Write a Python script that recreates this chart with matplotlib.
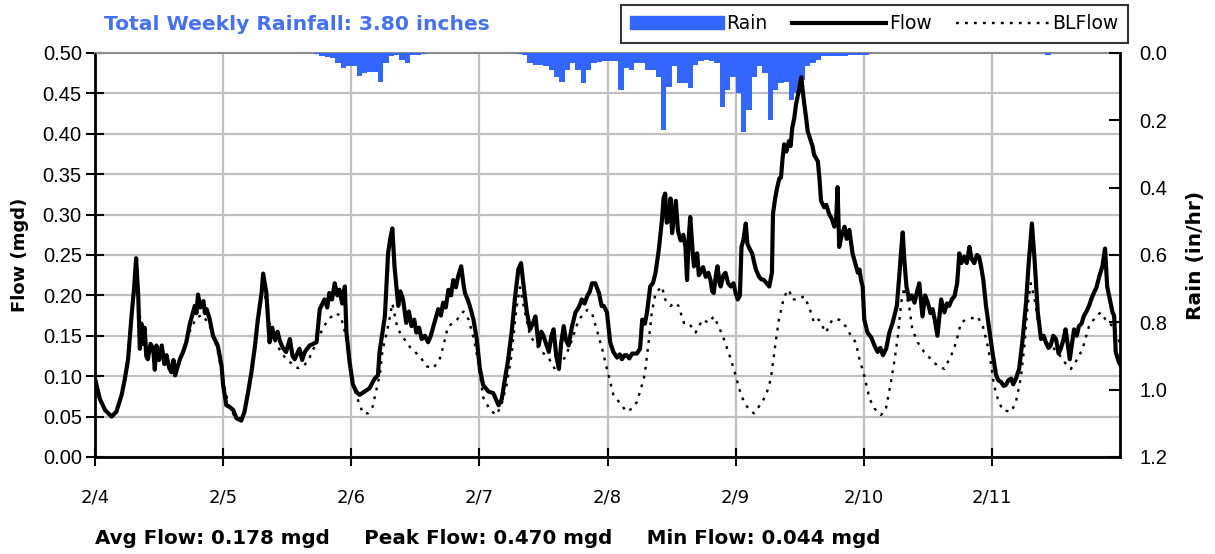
import numpy as np
import matplotlib
matplotlib.use('Agg')
import matplotlib.pyplot as plt
from matplotlib.patches import Patch
from matplotlib.lines import Line2D

# ---- data (hours since 2/4 00:00) ----
day_labels = ['2/4', '2/5', '2/6', '2/7', '2/8', '2/9', '2/10', '2/11']

flow_hr = [
    0, 0.9, 1.9, 3.1, 4.0, 5.0, 5.6, 6.2, 6.9, 7.3, 7.7, 8.1, 8.4, 8.7, 9.0, 9.3, 9.6, 9.9,
    10.4, 10.9, 11.2, 11.5, 12.0, 12.5, 13.0, 13.4, 13.9, 14.3, 14.7, 15.0, 15.9, 16.5,
    17.1, 17.8, 18.7, 19.0, 19.3, 19.7, 20.3, 20.6, 20.9, 21.5, 22.1, 23.0, 23.7, 24.0,
    24.6, 25.2, 25.9, 26.5, 27.4, 28.0, 28.7, 29.3, 29.9, 30.5, 31.2, 31.5, 32.1, 32.7,
    33.2, 33.7, 34.2, 34.6, 35.2, 35.8, 36.5, 37.0, 37.4, 38.3, 38.8, 39.3, 40.2, 41.5,
    42.1, 43.0, 43.5, 43.9, 44.4, 44.9, 45.4, 45.8, 46.3, 46.8, 47.1, 47.7, 48.3,
    49.0, 49.6, 50.5, 51.4, 52.4, 53.0, 53.3, 54.3, 54.9, 55.3, 55.7, 56.1, 56.8, 57.2,
    57.7, 58.3, 58.8, 59.3, 59.8, 60.2, 60.7, 61.2, 61.8, 62.4, 62.9, 63.4, 64.3, 64.8,
    65.2, 65.7, 66.2, 66.7, 67.1, 67.6, 68.0, 68.6, 69.0, 69.3, 69.8, 70.2, 70.9, 71.5, 72.1,
    72.7, 73.7, 74.6, 75.6, 76.2, 76.8, 77.4, 78.1, 78.7, 79.3, 79.8, 80.3, 80.9, 81.5,
    82.0, 82.5, 83.1, 83.6, 84.0, 84.5, 85.0, 85.5, 85.9, 86.4, 86.9, 87.3, 87.8, 88.2,
    88.7, 89.3, 90.0, 90.6, 91.2, 91.7, 92.2, 92.7, 93.1, 93.7, 94.4, 94.9, 95.3, 95.9,
    96.5, 97.1, 97.8, 98.3, 98.7, 99.2, 99.6, 100.1, 100.6, 101.5, 102.1, 102.5, 103.0,
    103.4, 104.0, 104.5, 105.0, 105.6, 106.2, 106.5, 106.8, 107.1, 107.5, 107.8, 108.1,
    108.5, 108.8, 109.2, 109.7, 110.2, 110.6, 110.9, 111.2, 111.5, 112.0, 112.2, 112.5,
    112.8, 113.1, 113.4, 113.9, 114.4, 114.9, 115.3, 115.6, 115.9, 116.3, 116.6, 117.0,
    117.2, 117.7, 118.1, 118.6, 119.1, 119.6, 120.0,
    120.4, 120.8, 121.1, 121.5, 121.9, 122.2, 122.6, 123.1, 123.5, 123.8, 124.4, 124.8,
    125.3, 125.8, 126.3, 126.8, 127.0, 127.4, 127.8, 128.2, 128.5, 128.8, 129.1, 129.5,
    130.0, 130.3, 130.6, 131.0, 131.3, 131.8, 132.3, 132.8, 133.2, 133.5, 134.1, 134.4,
    134.7, 135.4, 135.7, 136.0, 136.6, 137.0, 137.5, 138.0, 138.5, 138.8, 139.1, 139.4,
    139.9, 140.4, 140.8, 141.3, 141.9, 142.4, 142.9, 143.2, 143.5, 143.8,
    144.1, 144.7, 145.4, 146.0, 146.6, 147.1, 147.6, 148.2, 148.8, 149.4, 150.2, 150.7,
    151.0, 151.3, 151.6, 152.0, 152.5, 153.0, 153.5, 154.0, 154.4, 155.0, 155.5, 156.0,
    156.5, 156.9, 157.3, 157.8, 158.2, 158.5, 159.1, 159.6, 160.0, 160.5, 161.0, 161.5,
    161.9, 162.3, 162.8, 163.3, 163.8, 164.2, 164.7, 165.2, 165.6, 166.0, 166.4, 166.9,
    167.5, 168.1,
    168.8, 169.2, 169.7, 170.2, 170.6, 171.1, 171.6, 172.0, 172.5, 173.1, 173.7, 174.4,
    174.9, 175.5, 176.0, 176.6, 177.2, 177.7, 178.1, 178.6, 179.0, 179.5, 180.0, 180.5,
    180.9, 181.4, 181.8, 182.2, 182.6, 183.0, 183.4, 183.9, 184.3, 184.8, 185.2, 185.7,
    186.2, 186.6, 187.1, 187.6, 188.1, 188.7, 189.2, 189.6, 190.1, 190.6, 190.9, 191.2,
    191.8, 192.0,
]
flow_mgd = [
    0.097, 0.072, 0.058, 0.050, 0.056, 0.077, 0.097, 0.121, 0.179, 0.207, 0.246, 0.199, 0.134, 0.165, 0.140, 0.160, 0.125, 0.121,
    0.140, 0.134, 0.108, 0.138, 0.120, 0.138, 0.115, 0.126, 0.110, 0.105, 0.120, 0.101, 0.121, 0.130,
    0.142, 0.166, 0.187, 0.178, 0.201, 0.185, 0.193, 0.178, 0.183, 0.170, 0.150, 0.138, 0.113, 0.089,
    0.064, 0.062, 0.058, 0.048, 0.045, 0.056, 0.081, 0.105, 0.134, 0.170, 0.203, 0.227, 0.203, 0.142,
    0.160, 0.145, 0.155, 0.144, 0.135, 0.130, 0.146, 0.125, 0.121, 0.134, 0.120, 0.130, 0.138, 0.142,
    0.183, 0.195, 0.185, 0.203, 0.195, 0.215, 0.200, 0.207, 0.190, 0.211, 0.154, 0.117, 0.090,
    0.080, 0.077, 0.081, 0.085, 0.097, 0.101, 0.130, 0.174, 0.252, 0.270, 0.283, 0.236, 0.187, 0.205,
    0.195, 0.166, 0.180, 0.162, 0.170, 0.154, 0.160, 0.146, 0.150, 0.142, 0.150, 0.162, 0.183, 0.175,
    0.191, 0.185, 0.207, 0.200, 0.219, 0.210, 0.223, 0.236, 0.215, 0.203, 0.195, 0.187, 0.170, 0.146, 0.109,
    0.089, 0.081, 0.079, 0.064, 0.072, 0.097, 0.121, 0.158, 0.199, 0.232, 0.240, 0.211, 0.179, 0.158,
    0.165, 0.174, 0.138, 0.155, 0.150, 0.140, 0.130, 0.150, 0.158, 0.125, 0.109, 0.140, 0.162, 0.145,
    0.138, 0.160, 0.179, 0.185, 0.195, 0.190, 0.199, 0.205, 0.215, 0.215, 0.203, 0.187, 0.187, 0.179,
    0.142, 0.130, 0.123, 0.127, 0.121, 0.126, 0.126, 0.122, 0.128, 0.128, 0.134, 0.170, 0.165,
    0.179, 0.211, 0.215, 0.228, 0.256, 0.293, 0.320, 0.326, 0.290, 0.293, 0.320, 0.277,
    0.300, 0.317, 0.280, 0.268, 0.275, 0.260, 0.219, 0.270, 0.297, 0.250, 0.236, 0.250,
    0.252, 0.225, 0.228, 0.235, 0.223, 0.228, 0.219, 0.205, 0.203, 0.225, 0.236, 0.215,
    0.211, 0.225, 0.228, 0.215, 0.211, 0.215, 0.203,
    0.195, 0.200, 0.260, 0.270, 0.289, 0.264, 0.258, 0.252, 0.240, 0.232, 0.223, 0.220,
    0.219, 0.215, 0.211, 0.228, 0.301, 0.320, 0.334, 0.345, 0.346, 0.370, 0.387, 0.378,
    0.391, 0.385, 0.407, 0.420, 0.436, 0.452, 0.470, 0.440, 0.420, 0.403, 0.391, 0.385,
    0.374, 0.366, 0.345, 0.317, 0.309, 0.312, 0.301, 0.295, 0.285, 0.290, 0.334, 0.260,
    0.275, 0.285, 0.270, 0.281, 0.252, 0.240, 0.228, 0.232, 0.219, 0.211,
    0.170, 0.154, 0.148, 0.138, 0.130, 0.135, 0.126, 0.134, 0.154, 0.166, 0.187, 0.228,
    0.255, 0.278, 0.244, 0.211, 0.195, 0.200, 0.191, 0.205, 0.215, 0.174, 0.200, 0.191,
    0.178, 0.183, 0.170, 0.150, 0.175, 0.195, 0.179, 0.190, 0.187, 0.195, 0.199, 0.215,
    0.252, 0.240, 0.248, 0.240, 0.260, 0.245, 0.240, 0.250, 0.248, 0.235, 0.219, 0.187,
    0.158, 0.130,
    0.101, 0.095, 0.093, 0.088, 0.089, 0.095, 0.097, 0.090, 0.097, 0.109, 0.142, 0.191,
    0.240, 0.289, 0.244, 0.179, 0.146, 0.150, 0.142, 0.135, 0.138, 0.150, 0.146, 0.128,
    0.134, 0.145, 0.158, 0.140, 0.121, 0.140, 0.158, 0.150, 0.162, 0.165, 0.174, 0.180,
    0.187, 0.195, 0.203, 0.210, 0.223, 0.236, 0.258, 0.211, 0.195, 0.179, 0.175, 0.130,
    0.117, 0.115,
]

bl_hr = [
    0, 1, 2, 3, 4, 5, 6, 7, 7.7, 8.3, 9, 10, 11, 12, 13, 14, 15, 16, 17, 18, 19, 20, 21, 22, 23, 24,
    25, 26, 27, 28, 29, 30, 31, 31.5, 32.3, 33, 34, 35, 36, 37, 38, 39, 40, 41, 42, 43, 44, 45, 46, 47, 48,
    49, 50.2, 51.1, 52, 53.4, 53.8, 55, 55.7, 56.6, 57.2, 59.0, 60.9, 62.2, 63.4, 64.6, 65.2, 66.1,
    67.8, 69, 70, 71, 72,
    72.7, 74, 75.2, 76.1, 77.1, 78, 78.9, 79.6, 80.5, 81.5, 83.2, 85.1, 86.3, 88.2, 89.4, 90.6,
    92.2, 93.1, 94.3, 95.0, 95.6, 96.5,
    97.1, 98.4, 99.6, 100.6, 101.5, 102.1, 102.8, 103.1, 103.7, 104.3, 105.0, 105.6, 106.2,
    106.8, 107.8, 108.7, 109.3, 110.3, 111.2, 112.5, 113.8, 115.0, 115.9, 116.8, 117.8, 119.1,
    120.0, 121.0, 121.9, 123.4, 125.0, 125.9, 126.6, 127.5, 128.1, 129.1, 130.0, 130.6, 131.8,
    132.8, 133.7, 134.7, 135.6, 136.9, 138.1, 139.4, 140.6, 141.6, 142.5, 143.2, 144.0,
    145.1, 146.0, 147.2, 148.1, 149.1, 149.7, 150.4, 151.0, 151.6, 152.5, 153.1, 154.1, 155.3,
    156.6, 157.8, 159.1, 160.4, 161.3, 162.2, 163.1, 164.4, 165.3, 166.3, 167.2, 167.8, 168.4,
    169.1, 170.0, 171.6, 172.5, 173.4, 174.1, 174.7, 175.3, 176.0, 176.6, 177.5, 178.5, 179.5,
    180.5, 181.5, 182.8, 184.0, 185.0, 186.2, 187.5, 188.4, 189.3, 190.6, 191.5, 192.0,
]
bl_mgd = [
    0.095, 0.070, 0.057, 0.052, 0.055, 0.075, 0.115, 0.190, 0.225, 0.180, 0.150, 0.135, 0.128, 0.125, 0.120, 0.112, 0.110, 0.120, 0.140, 0.160, 0.172, 0.176, 0.168, 0.155, 0.130, 0.095,
    0.065, 0.052, 0.047, 0.055, 0.090, 0.140, 0.190, 0.215, 0.180, 0.155, 0.140, 0.128, 0.120, 0.115, 0.110, 0.112, 0.120, 0.135, 0.150, 0.163, 0.172, 0.178, 0.175, 0.150, 0.100,
    0.075, 0.054, 0.054, 0.062, 0.104, 0.129, 0.165, 0.190, 0.161, 0.153, 0.136, 0.124, 0.112, 0.110, 0.122, 0.136, 0.161,
    0.170, 0.180, 0.170, 0.145, 0.110,
    0.074, 0.058, 0.052, 0.064, 0.089, 0.125, 0.182, 0.210, 0.180, 0.150, 0.134, 0.121, 0.107, 0.125, 0.146, 0.170,
    0.182, 0.178, 0.150, 0.134, 0.117, 0.093,
    0.077, 0.066, 0.056, 0.060, 0.068, 0.081, 0.097, 0.109, 0.142, 0.179, 0.203, 0.207, 0.211,
    0.195, 0.187, 0.191, 0.187, 0.166, 0.166, 0.154, 0.170, 0.166, 0.174, 0.162, 0.146, 0.121,
    0.101, 0.077, 0.064, 0.054, 0.068, 0.081, 0.097, 0.142, 0.170, 0.199, 0.207, 0.195, 0.195,
    0.199, 0.187, 0.166, 0.170, 0.154, 0.170, 0.170, 0.162, 0.150, 0.142, 0.121, 0.103,
    0.072, 0.060, 0.052, 0.058, 0.093, 0.117, 0.150, 0.191, 0.210, 0.187, 0.158, 0.142, 0.130,
    0.121, 0.113, 0.109, 0.126, 0.142, 0.166, 0.170, 0.172, 0.174, 0.162, 0.138, 0.117, 0.089,
    0.072, 0.058, 0.056, 0.068, 0.097, 0.138, 0.187, 0.215, 0.195, 0.170, 0.150, 0.140, 0.135,
    0.128, 0.118, 0.109, 0.121, 0.134, 0.162, 0.174, 0.179, 0.170, 0.162, 0.150, 0.140,
]

# hourly rain intensity (in/hr), one row per day
rain_in_hr = [
    0, 0, 0, 0, 0, 0, 0, 0, 0, 0, 0, 0, 0, 0, 0, 0, 0, 0, 0, 0, 0, 0, 0, 0,
    0, 0, 0, 0, 0, 0, 0, 0, 0, 0, 0, 0, 0, 0, 0, 0, 0, 0.004, 0.008, 0.012, 0.015, 0.03, 0.045, 0.038,
    0.04, 0.068, 0.06, 0.057, 0.057, 0.085, 0.03, 0.01, 0.005, 0.02, 0.03, 0.005, 0.005, 0.004, 0, 0, 0, 0, 0, 0, 0, 0, 0, 0,
    0, 0, 0, 0, 0, 0, 0, 0.004, 0.005, 0.03, 0.035, 0.035, 0.04, 0.05, 0.07, 0.085, 0.05, 0.03, 0.05, 0.09, 0.05, 0.03, 0.028, 0.025,
    0.025, 0.025, 0.11, 0.045, 0.05, 0.03, 0.03, 0.05, 0.05, 0.07, 0.23, 0.1, 0.04, 0.09, 0.09, 0.105, 0.035, 0.025, 0.02, 0.025, 0.03, 0.16, 0.11, 0.07,
    0.12, 0.235, 0.17, 0.07, 0.04, 0.06, 0.2, 0.11, 0.09, 0.085, 0.14, 0.12, 0.08, 0.04, 0.03, 0.02, 0.01, 0.01, 0.01, 0.01, 0.01, 0.005, 0.005, 0.005,
    0.005, 0, 0, 0, 0, 0, 0, 0, 0, 0, 0, 0, 0, 0, 0, 0, 0, 0, 0, 0, 0, 0, 0, 0,
    0, 0, 0, 0, 0, 0, 0, 0, 0, 0, 0.005, 0, 0, 0, 0, 0, 0, 0, 0, 0, 0, 0, 0, 0,
]

total_rain = 3.80
avg_flow, peak_flow, min_flow = 0.178, 0.470, 0.044

rain_blue = '#3366ff'
grid_gray = '#c0c0c0'

fig = plt.figure(figsize=(12.15, 5.54), dpi=100)
ax = fig.add_axes([95 / 1215, 1 - 457 / 554, (1120 - 95) / 1215, (457 - 53) / 554])
ax2 = ax.twinx()   # rain, inverted
ax3 = ax.twinx()   # flow lines drawn on top of rain

# grid + left axis
ax.set_xlim(0, 8)
ax.set_ylim(0, 0.5)
ax.set_yticks(np.arange(0, 0.501, 0.05))
ax.set_yticklabels(['%.2f' % v for v in np.arange(0, 0.501, 0.05)])
ax.set_xticks(range(8))
ax.set_xticklabels(day_labels)
ax.grid(True, color=grid_gray, lw=1.6)
ax.set_axisbelow(True)
ax.tick_params(axis='y', direction='inout', length=13, width=1.5, pad=3,
               labelsize=14.5, labelfontfamily='Liberation Sans')
ax.tick_params(axis='x', direction='inout', length=13, width=1.5, pad=16, labelsize=13)
for s in ['left', 'bottom']:
    ax.spines[s].set_linewidth(2)
ax.spines['top'].set_color('#8c8c8c')
ax.spines['top'].set_linewidth(1.5)

# rain bars
ax2.bar(np.arange(len(rain_in_hr)) / 24, rain_in_hr, width=1 / 24, align='edge',
        color=rain_blue, linewidth=0)
ax2.set_ylim(1.2, 0)
ax2.set_yticks(np.arange(0, 1.21, 0.2))
ax2.set_yticklabels(['%.1f' % v for v in np.arange(0, 1.21, 0.2)])
ax2.tick_params(axis='y', direction='in', length=8, width=1.5, pad=14,
                labelsize=14.5, labelfontfamily='Liberation Sans')
ax2.spines['right'].set_linewidth(2)
ax2.spines['top'].set_visible(False)

# flow lines
ax3.plot(np.array(bl_hr) / 24, bl_mgd, color='black', lw=1.7, ls=(0, (1.2, 2.6)))
ax3.plot(np.array(flow_hr) / 24, flow_mgd, color='black', lw=3)
ax3.set_ylim(0, 0.5)
ax3.set_xlim(0, 8)
ax3.axis('off')

fig.text(20 / 1215, 1 - 255 / 554, 'Flow (mgd)', rotation=90, ha='center', va='center',
         fontsize=13, fontweight='bold')
fig.text(1195 / 1215, 1 - 255 / 554, 'Rain (in/hr)', rotation=90, ha='center', va='center',
         fontsize=14.5, fontweight='bold')
fig.text(104 / 1215, 1 - 25 / 554, 'Total Weekly Rainfall: %.2f inches' % total_rain,
         color='#4470f4', fontsize=14.6, fontweight='bold', ha='left', va='center')
fig.text(95 / 1215, 1 - 538 / 554,
         'Avg Flow: %.3f mgd     Peak Flow: %.3f mgd     Min Flow: %.3f mgd' % (avg_flow, peak_flow, min_flow),
         fontsize=14.3, fontweight='bold', ha='left', va='center')

handles = [Patch(color=rain_blue), Line2D([], [], color='black', lw=3),
           Line2D([], [], color='black', lw=1.7, ls=(0, (1.2, 2.6)))]
leg = fig.legend(handles, ['Rain', 'Flow', 'BLFlow'], loc='upper right', ncol=3,
                 bbox_to_anchor=(1128 / 1215, 1 - 5 / 554), borderaxespad=0, fontsize=13.5,
                 frameon=True, fancybox=False, edgecolor='black', handlelength=5,
                 handletextpad=0.15, columnspacing=1.3, borderpad=0.5)
leg.get_frame().set_linewidth(1.5)

fig.savefig('out.png', dpi=100)
